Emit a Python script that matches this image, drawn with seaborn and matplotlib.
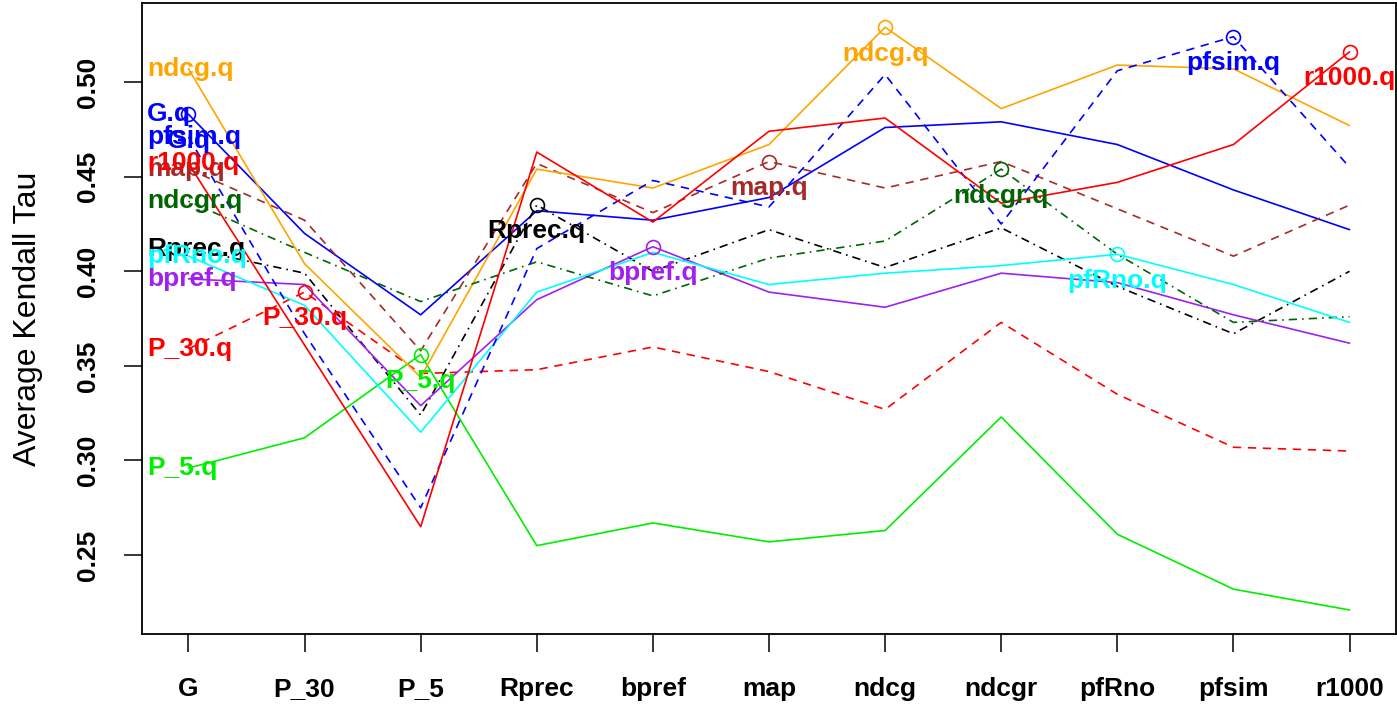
import pandas as pd
import matplotlib.pyplot as plt
import seaborn as sns

metrics = ["G", "P_30", "P_5", "Rprec", "bpref", "map", "ndcg", "ndcgr", "pfRno", "pfsim", "r1000"]

g_q      = [0.483, 0.420, 0.377, 0.432, 0.427, 0.439, 0.476, 0.479, 0.467, 0.443, 0.422]
p30_q    = [0.359, 0.389, 0.346, 0.348, 0.360, 0.347, 0.327, 0.373, 0.335, 0.307, 0.305]
p5_q     = [0.296, 0.312, 0.356, 0.255, 0.267, 0.257, 0.263, 0.323, 0.261, 0.232, 0.221]
rprec_q  = [0.412, 0.399, 0.324, 0.435, 0.400, 0.422, 0.402, 0.423, 0.392, 0.367, 0.400]
bpref_q  = [0.396, 0.393, 0.329, 0.385, 0.413, 0.389, 0.381, 0.399, 0.394, 0.377, 0.362]
map_q    = [0.454, 0.427, 0.358, 0.457, 0.431, 0.458, 0.444, 0.458, 0.433, 0.408, 0.435]
ndcg_q   = [0.507, 0.404, 0.344, 0.454, 0.444, 0.467, 0.529, 0.486, 0.509, 0.507, 0.477]
ndcgr_q  = [0.437, 0.410, 0.384, 0.405, 0.387, 0.407, 0.416, 0.454, 0.409, 0.373, 0.376]
pfrno_q  = [0.408, 0.382, 0.315, 0.389, 0.410, 0.393, 0.399, 0.403, 0.409, 0.393, 0.373]
pfsim_q  = [0.471, 0.367, 0.275, 0.412, 0.448, 0.434, 0.504, 0.425, 0.506, 0.524, 0.455]
r1000_q  = [0.457, 0.361, 0.265, 0.463, 0.426, 0.474, 0.481, 0.436, 0.447, 0.467, 0.516]

series_names = ["G.q", "P_30.q", "P_5.q", "Rprec.q", "bpref.q", "map.q",
                "ndcg.q", "ndcgr.q", "pfRno.q", "pfsim.q", "r1000.q"]
series_values = [g_q, p30_q, p5_q, rprec_q, bpref_q, map_q,
                 ndcg_q, ndcgr_q, pfrno_q, pfsim_q, r1000_q]

colors = {"G.q": "#0000FF", "P_30.q": "#FF0000", "P_5.q": "#00EE00", "Rprec.q": "#000000",
          "bpref.q": "#A020F0", "map.q": "#A52A2A", "ndcg.q": "#FFA500", "ndcgr.q": "#006400",
          "pfRno.q": "#00FFFF", "pfsim.q": "#0000FF", "r1000.q": "#FF0000"}
dash = (5, 4)
dotdash = (1, 3, 5, 3)
dashes = {"G.q": "", "P_30.q": dash, "P_5.q": "", "Rprec.q": dotdash, "bpref.q": "",
          "map.q": dash, "ndcg.q": "", "ndcgr.q": dotdash, "pfRno.q": "",
          "pfsim.q": dash, "r1000.q": ""}

rows = []
for name, vals in zip(series_names, series_values):
    for m, v in zip(metrics, vals):
        rows.append({"metric": m, "tau": v, "series": name})
df = pd.DataFrame(rows)

sns.set_style("ticks")
plt.rcParams['font.family'] = ['Liberation Sans', 'DejaVu Sans']
for key in ["text.color", "axes.labelcolor", "xtick.color", "ytick.color", "axes.edgecolor"]:
    plt.rcParams[key] = "black"

fig = plt.figure(figsize=(13.97, 7.05), dpi=100)
ax = fig.add_axes([142 / 1397, 1 - 634 / 705, (1396 - 142) / 1397, (634 - 3) / 705])

sns.lineplot(data=df, x="metric", y="tau", hue="series", style="series",
             palette=colors, dashes=dashes, linewidth=1.2, legend=False, ax=ax)

# labels at the first point (left) and circle + label at each series' own metric
for name, vals in zip(series_names, series_values):
    ax.text(-0.355, vals[0], name, color=colors[name], fontsize=19, fontweight="bold",
            ha="left", va="center")
for i, (name, vals) in enumerate(zip(series_names, series_values)):
    ax.plot([i], [vals[i]], marker="o", markersize=10, markerfacecolor="none",
            markeredgecolor=colors[name], markeredgewidth=1.2, linestyle="none")
    ax.annotate(name, (i, vals[i]), xytext=(0, -19), textcoords="offset points",
                color=colors[name], fontsize=19, fontweight="bold", ha="center", va="center")

ax.set_xlim(-0.4, 10.4)
ax.set_ylim(0.2083, 0.5418)
ax.set_xticks(range(len(metrics)))
ax.set_xticklabels(metrics, fontsize=19, fontweight="bold")
ax.set_yticks([0.25, 0.30, 0.35, 0.40, 0.45, 0.50])
ax.set_yticklabels(["0.25", "0.30", "0.35", "0.40", "0.45", "0.50"], fontsize=19,
                   fontweight="bold", rotation=90, va="center")
ax.tick_params(axis="x", length=13, width=1.1, pad=18)
ax.tick_params(axis="y", length=13, width=1.1, pad=17)
ax.set_xlabel("")
ax.set_ylabel("Average Kendall Tau", fontsize=23, labelpad=24)
for s in ax.spines.values():
    s.set_linewidth(1.3)
    s.set_visible(True)

fig.savefig("out.png", dpi=100)
